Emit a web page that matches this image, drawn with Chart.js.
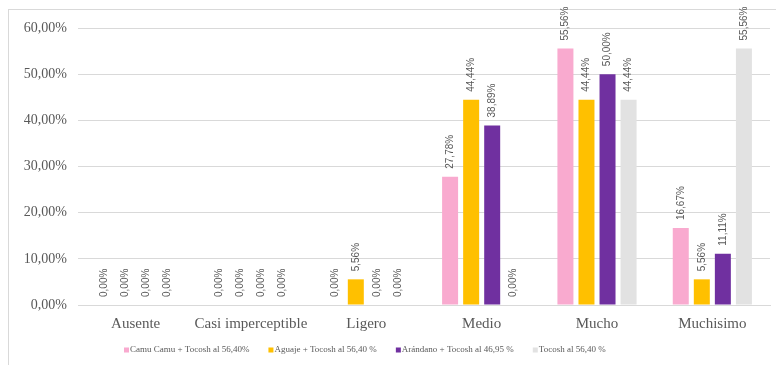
<!DOCTYPE html>
<html lang="es">
<head>
    <meta charset="UTF-8">
    <title>Intensidad percibida</title>
    <style>
        html, body { margin: 0; padding: 0; background: #ffffff; overflow: hidden; }
        #chart-container { width: 776px; height: 365px; }
    </style>
</head>
<body>
    <div id="chart-container">
        <canvas id="grafico" width="776" height="365"></canvas>
    </div>

    <script src="https://cdn.jsdelivr.net/npm/chart.js"></script>

    <script>
        // Categorías del eje X
        const categorias = ['Ausente', 'Casi imperceptible', 'Ligero', 'Medio', 'Mucho', 'Muchisimo'];

        // Porcentajes de cada formulación
        const camuCamu = [0, 0, 0, 27.78, 55.56, 16.67];
        const aguaje = [0, 0, 5.56, 44.44, 44.44, 5.56];
        const arandano = [0, 0, 0, 38.89, 50.00, 11.11];
        const tocosh = [0, 0, 0, 0, 44.44, 55.56];

        const nombres = [
            'Camu Camu + Tocosh al 56,40%',
            'Aguaje + Tocosh al 56,40 %',
            'Arándano + Tocosh al 46,95 %',
            'Tocosh al 56,40 %'
        ];

        const formato = (v) => v.toFixed(2).replace('.', ',') + '%';
        const serif = '"Liberation Serif", "Times New Roman", serif';

        // Marco gris alrededor del gráfico
        const marco = {
            id: 'marco',
            beforeDraw(chart) {
                const ctx = chart.ctx;
                ctx.save();
                ctx.strokeStyle = '#d9d9d9';
                ctx.lineWidth = 1;
                ctx.strokeRect(8.5, 9.5, 820, 400);
                ctx.restore();
            }
        };

        // Etiquetas de valor giradas sobre cada barra
        const etiquetas = {
            id: 'etiquetas',
            afterDatasetsDraw(chart) {
                const ctx = chart.ctx;
                ctx.save();
                ctx.font = '10px "Liberation Sans", Arial, sans-serif';
                ctx.fillStyle = '#595959';
                ctx.textAlign = 'left';
                ctx.textBaseline = 'middle';
                chart.data.datasets.forEach((ds, i) => {
                    chart.getDatasetMeta(i).data.forEach((bar, j) => {
                        ctx.save();
                        ctx.translate(bar.x, bar.y - 8);
                        ctx.rotate(-Math.PI / 2);
                        ctx.fillText(formato(ds.data[j]), 0, 0);
                        ctx.restore();
                    });
                });
                ctx.restore();
            }
        };

        // Leyenda en una sola fila, desplazada a la izquierda como en Excel
        const leyenda = {
            id: 'leyenda',
            afterDraw(chart) {
                const ctx = chart.ctx;
                ctx.save();
                ctx.font = '9px ' + serif;
                ctx.textBaseline = 'middle';
                let x = 124;
                const y = 350;
                chart.data.datasets.forEach((ds) => {
                    ctx.fillStyle = ds.backgroundColor;
                    ctx.fillRect(x, y - 2.5, 5, 5);
                    ctx.fillStyle = '#595959';
                    ctx.fillText(ds.label, x + 6, y);
                    x += 6 + ctx.measureText(ds.label).width + 19;
                });
                ctx.restore();
            }
        };

        const ctx = document.getElementById('grafico').getContext('2d');
        new Chart(ctx, {
            type: 'bar',
            data: {
                labels: categorias,
                datasets: [
                    { label: nombres[0], data: camuCamu, backgroundColor: '#f9aacf' },
                    { label: nombres[1], data: aguaje, backgroundColor: '#ffc000' },
                    { label: nombres[2], data: arandano, backgroundColor: '#7030a0' },
                    { label: nombres[3], data: tocosh, backgroundColor: '#e2e2e2' }
                ]
            },
            options: {
                responsive: false,
                animation: false,
                layout: { padding: { top: 28, right: 6, left: 10, bottom: 30 } },
                datasets: {
                    bar: { categoryPercentage: 0.73, barPercentage: 0.76 }
                },
                plugins: {
                    tooltip: { enabled: false },
                    legend: { display: false }
                },
                scales: {
                    x: {
                        grid: { display: false },
                        border: { color: '#d9d9d9' },
                        ticks: {
                            color: '#595959',
                            padding: 2,
                            autoSkip: false,
                            maxRotation: 0,
                            font: { family: serif, size: 15 }
                        }
                    },
                    y: {
                        min: 0,
                        max: 60,
                        afterFit: (s) => { s.width = 68; },
                        grid: { color: '#d9d9d9', drawTicks: false },
                        border: { display: false },
                        ticks: {
                            stepSize: 10,
                            padding: 11,
                            color: '#595959',
                            callback: (v) => formato(v),
                            font: { family: serif, size: 14 }
                        }
                    }
                }
            },
            plugins: [marco, etiquetas, leyenda]
        });
    </script>
</body>
</html>
